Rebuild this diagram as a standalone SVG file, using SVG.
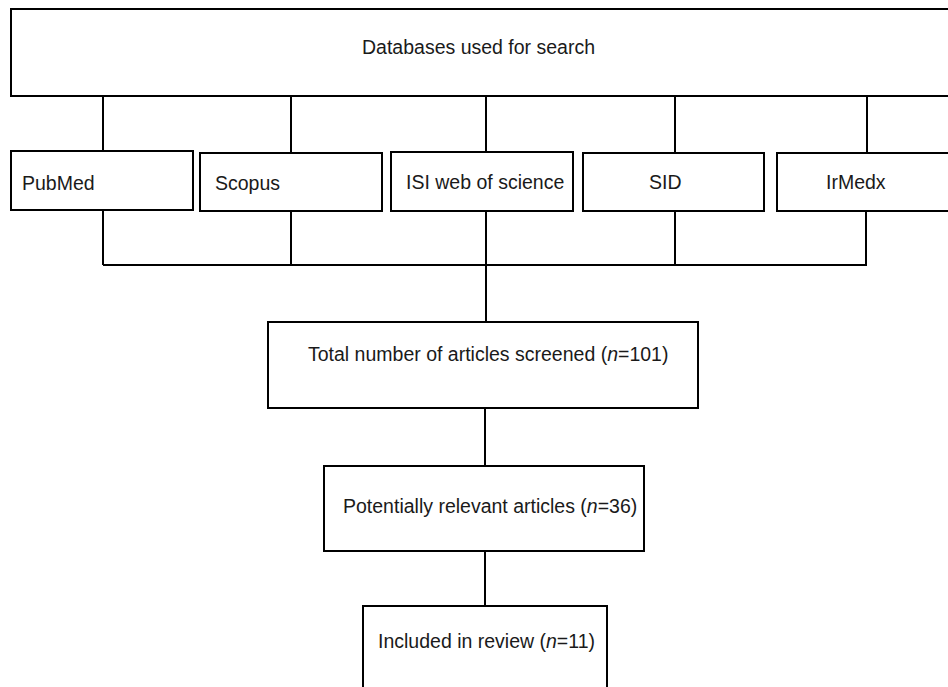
<svg xmlns="http://www.w3.org/2000/svg" width="948" height="687" viewBox="0 0 948 687">
<style>
.box{fill:#fff;stroke:#000;stroke-width:2}
.ln{fill:none;stroke:#000;stroke-width:2}
text{font-family:"Liberation Sans",Arial,sans-serif;font-size:19.5px;fill:#1a1a1a}
</style>
<rect width="948" height="687" fill="#fff"/>
<g id="connectors">
<path class="ln" d="M103 96V151M291 96V153M486 96V152M675 96V153M867 96V153"/>
<path class="ln" d="M103 210V265M291 211V265M486 211V265M675 211V265M866 211V265M103 265H867"/>
<path class="ln" d="M486 265V322M485 408V466M485 551V606"/>
</g>
<g id="databases"><rect class="box" x="11" y="9" width="950" height="87"/><text x="362" y="54">Databases used for search</text></g>
<g id="pubmed"><rect class="box" x="11" y="151" width="182" height="59"/><text x="22" y="190">PubMed</text></g>
<g id="scopus"><rect class="box" x="200" y="153" width="182" height="58"/><text x="215" y="190">Scopus</text></g>
<g id="isi"><rect class="box" x="391" y="152" width="182" height="59"/><text x="406" y="189">ISI web of science</text></g>
<g id="sid"><rect class="box" x="583" y="153" width="181" height="58"/><text x="649" y="189">SID</text></g>
<g id="irmedx"><rect class="box" x="777" y="153" width="200" height="58"/><text x="826" y="189">IrMedx</text></g>
<g id="total"><rect class="box" x="268" y="322" width="430" height="86"/><text x="308" y="361">Total number of articles screened (<tspan font-style="italic">n</tspan>=101)</text></g>
<g id="potential"><rect class="box" x="324" y="466" width="320" height="85"/><text x="343" y="513">Potentially relevant articles (<tspan font-style="italic">n</tspan>=36)</text></g>
<g id="included"><rect class="box" x="363" y="606" width="244" height="100"/><text x="378" y="648">Included in review (<tspan font-style="italic">n</tspan>=11)</text></g>
</svg>
